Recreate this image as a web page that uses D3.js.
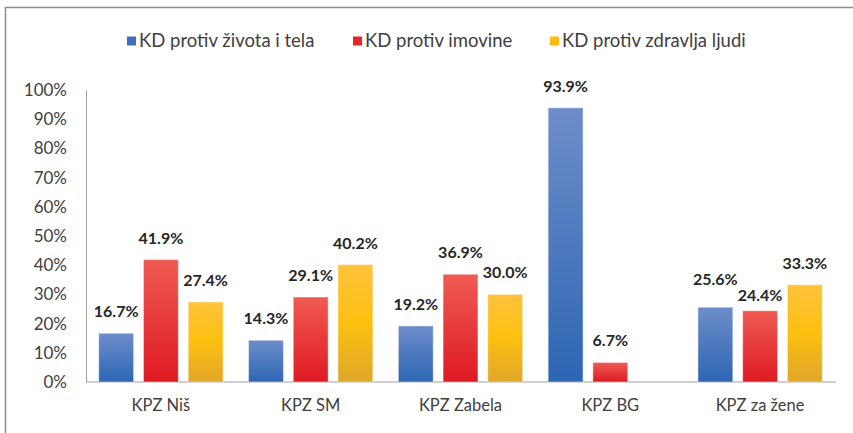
<!DOCTYPE html>
<html>
<head>
<meta charset="utf-8">
<script src="https://cdn.jsdelivr.net/npm/d3@7"></script>
<style>
  body { margin: 0; background: #fff; }
  text { font-family: Lato, "Open Sans", sans-serif; }
</style>
</head>
<body>
<svg id="chart"></svg>
<script>
const categories = ["KPZ Niš", "KPZ SM", "KPZ Zabela", "KPZ BG", "KPZ za žene"]
const seriesNames = ["KD protiv života i tela", "KD protiv imovine", "KD protiv zdravlja ljudi"]
const zivotaTela = [16.7, 14.3, 19.2, 93.9, 25.6]
const imovine = [41.9, 29.1, 36.9, 6.7, 24.4]
const zdravlja = [27.4, 40.2, 30.0, null, 33.3]
const yTicks = [0, 10, 20, 30, 40, 50, 60, 70, 80, 90, 100]

const seriesValues = [zivotaTela, imovine, zdravlja]
const gradients = [
    ["#6d8dca", "#2d66b3"],
    ["#ef5b52", "#df1a22"],
    ["#ffc23c", "#fcc00f", "#e0a62a"]
]
const legendColors = ["#3f6fbd", "#e5262b", "#fbbb14"]

const width = 853
const height = 433
const margin = { top: 90, right: 18, bottom: 51, left: 86 }
const bodyWidth = width - margin.left - margin.right
const bodyHeight = height - margin.top - margin.bottom

const svg = d3.select("#chart")
    .attr("width", width)
    .attr("height", height)

// frame (right and bottom edges fall outside the picture)
svg.append("rect")
    .attr("x", 5.5)
    .attr("y", 7.5)
    .attr("width", width)
    .attr("height", height)
    .attr("fill", "none")
    .attr("stroke", "#8c8c8c")
    .attr("stroke-width", 1.5)

const defs = svg.append("defs")
gradients.forEach((stops, i) => {
    const g = defs.append("linearGradient")
        .attr("id", "grad" + i)
        .attr("x1", 0).attr("y1", 0).attr("x2", 0).attr("y2", 1)
    stops.forEach((c, j) => {
        g.append("stop")
            .attr("offset", j / (stops.length - 1))
            .attr("stop-color", c)
    })
})

const x0 = d3.scaleBand()
    .domain(categories)
    .range([0, bodyWidth])
    .paddingInner(0.17)
    .paddingOuter(0.085)

const x1 = d3.scaleBand()
    .domain(d3.range(seriesNames.length))
    .range([0, x0.bandwidth()])
    .paddingInner(0.22)

const y = d3.scaleLinear()
    .domain([0, 100])
    .range([bodyHeight, 0])

const body = svg.append("g")
    .attr("transform", `translate(${margin.left},${margin.top})`)

// y axis labels
const yAxis = d3.axisLeft(y)
    .tickValues(yTicks)
    .tickFormat(d => d + "%")
    .tickSize(0)
    .tickPadding(19)

body.append("g")
    .call(yAxis)
    .call(g => g.select(".domain").attr("stroke", "#a0a0a0"))
    .call(g => g.selectAll("text")
        .attr("fill", "#404040")
        .style("font-size", "17px")
        .style("font-family", "Lato, sans-serif"))

// x axis
const xAxis = d3.axisBottom(x0)
    .tickSize(0)
    .tickPadding(17)

body.append("g")
    .attr("transform", `translate(0,${bodyHeight})`)
    .call(xAxis)
    .call(g => g.select(".domain").attr("stroke", "#a0a0a0").attr("d", `M0,0H${bodyWidth + 1}`))
    .call(g => g.selectAll("text")
        .attr("fill", "#404040")
        .style("font-size", "16.5px")
        .style("font-family", "Lato, sans-serif"))

// bars
const rows = []
categories.forEach((cat, ci) => {
    seriesValues.forEach((vals, si) => {
        if (vals[ci] != null) rows.push({ cat: cat, ci: ci, si: si, value: vals[ci] })
    })
})

body.selectAll(".bar")
    .data(rows)
    .enter()
    .append("rect")
    .attr("class", "bar")
    .attr("x", d => x0(d.cat) + x1(d.si))
    .attr("y", d => y(d.value))
    .attr("width", x1.bandwidth())
    .attr("height", d => bodyHeight - y(d.value))
    .attr("fill", d => `url(#grad${d.si})`)
    .attr("stroke", "rgba(255,255,255,0.45)")
    .attr("stroke-width", 1)

// value labels, nudged apart when neighbours collide
const labelGap = 16
rows.forEach(d => { d.ly = y(d.value) - labelGap })
categories.forEach((cat, ci) => {
    const grp = rows.filter(r => r.ci === ci)
    for (let k = 1; k < grp.length; k++) {
        const a = grp[k - 1], b = grp[k]
        if (Math.abs(a.ly - b.ly) < 16) {
            const mid = (a.ly + b.ly) / 2
            const up = a.ly <= b.ly ? a : b
            const down = up === a ? b : a
            up.ly = mid - 8
            down.ly = mid + 8
        }
    }
})

body.selectAll(".val")
    .data(rows)
    .enter()
    .append("text")
    .attr("class", "val")
    .attr("x", d => x0(d.cat) + x1(d.si) + x1.bandwidth() / 2)
    .attr("y", d => d.ly)
    .attr("text-anchor", "middle")
    .attr("fill", "#262626")
    .style("font-size", "16px")
    .style("font-weight", "bold")
    .text(d => d.value.toFixed(1) + "%")

// legend
const legendX = [127, 353, 550]
const legend = svg.append("g")
    .attr("transform", "translate(0,41)")

const items = legend.selectAll(".item")
    .data(seriesNames)
    .enter()
    .append("g")
    .attr("class", "item")
    .attr("transform", (d, i) => `translate(${legendX[i]},0)`)

items.append("rect")
    .attr("x", 0)
    .attr("y", -4.5)
    .attr("width", 9)
    .attr("height", 9)
    .attr("fill", (d, i) => legendColors[i])

items.append("text")
    .attr("x", 12)
    .attr("dy", "0.35em")
    .attr("fill", "#404040")
    .style("font-size", "18.5px")
    .text(d => d)
</script>
</body>
</html>
